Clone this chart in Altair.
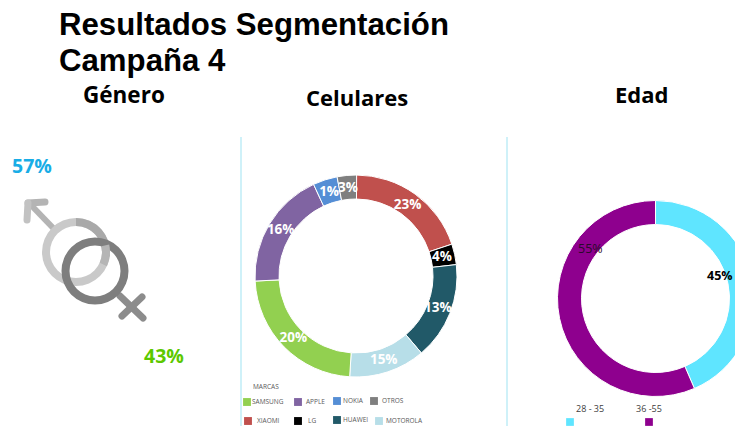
import altair as alt
import pandas as pd

# ---- data ----
TITLE_1 = "Resultados Segmentación"
TITLE_2 = "Campaña 4"
brands = ["XIAOMI", "LG", "HUAWEI", "MOTOROLA", "SAMSUNG", "APPLE", "NOKIA", "OTROS"]
brand_shares = [19.9, 3.3, 15.6, 12.2, 23.2, 18.9, 3.9, 3.1]
brand_labels = ["23%", "4%", "13%", "15%", "20%", "16%", "1%", "3%"]
brand_colors = ["#c0504d", "#000000", "#215968", "#b7dee8", "#92d050", "#8064a2", "#558ed5", "#7f7f7f"]
ages = ["28 - 35", "36 -55"]
age_shares = [43.5, 56.5]
age_labels = ["45%", "55%"]
age_colors = ["#5fe5ff", "#8e008e"]
gender_labels = ["57%", "43%"]

OFF = 8  # page margin


def fx(v):
    return alt.value(v - OFF)


def text(t, x, y, size, color="#000000", font="Open Sans", weight="bold", align="left", baseline="middle"):
    return (
        alt.Chart(pd.DataFrame({"t": [t]}))
        .mark_text(font=font, fontSize=size, fontWeight=weight, color=color, align=align, baseline=baseline)
        .encode(text="t:N", x=fx(x), y=fx(y))
    )


def line(x1, y1, x2, y2, color, w, cap="round"):
    return (
        alt.Chart(pd.DataFrame({"a": [0]}))
        .mark_rule(color=color, strokeWidth=w, strokeCap=cap)
        .encode(x=fx(x1), y=fx(y1), x2=fx(x2), y2=fx(y2))
    )


def ring(cx, cy, r_out, r_in, color, start=0.0, end=6.2832):
    return (
        alt.Chart(pd.DataFrame({"a": [0]}))
        .mark_arc(color=color, radius=r_out, radius2=r_in, theta=start, theta2=end)
        .encode(x=fx(cx), y=fx(cy))
    )


def square(x, y, color, size=62):
    return (
        alt.Chart(pd.DataFrame({"a": [0]}))
        .mark_point(shape="square", filled=True, color=color, size=size, opacity=1)
        .encode(x=fx(x), y=fx(y))
    )


def donut(names, shares, colors, cx, cy, r_out, r_in):
    df = pd.DataFrame({"name": names, "share": shares, "order": list(range(len(names)))})
    return (
        alt.Chart(df)
        .mark_arc(radius=r_out, radius2=r_in, stroke="#ffffff", strokeWidth=1)
        .encode(
            theta=alt.Theta("share:Q", stack=True, scale=alt.Scale(domain=[0, 100])),
            order=alt.Order("order:Q"),
            color=alt.Color("name:N", scale=alt.Scale(domain=names, range=colors), legend=None),
            x=fx(cx),
            y=fx(cy),
        )
    )


# ---- phone donut with stacked labels ----
phones = donut(brands, brand_shares, brand_colors, 356, 276, 101, 77)
phone_labels = (
    alt.Chart(pd.DataFrame({"name": brands, "share": brand_shares, "label": brand_labels,
                            "order": list(range(len(brands)))}))
    .mark_text(radius=88, font="Open Sans", fontSize=13.5, fontWeight="bold", color="#ffffff")
    .encode(
        theta=alt.Theta("share:Q", stack=True, scale=alt.Scale(domain=[0, 100])),
        order=alt.Order("order:Q"),
        detail="name:N",
        text="label:N",
        x=fx(356),
        y=fx(276),
    )
)

age_donut = donut(ages, age_shares, age_colors, 655.5, 298.5, 98, 74)

# ---- gender symbol ----
MALE_LIGHT = "#c9c9c9"
MALE_DARK = "#a9a9a9"
FEMALE = "#7e7e7e"
FEMALE_DARK = "#8c8c8c"
symbol = [
    line(30, 204, 56, 231, "#b4b4b4", 6, "butt"),
    line(28, 203, 45, 202, "#b4b4b4", 7),
    line(28, 203, 27, 220, "#c2c2c2", 7),
    ring(76, 252, 34, 26, MALE_LIGHT),
    ring(76, 252, 34, 26, MALE_DARK, 0.0, 1.7),
    line(120, 296, 143, 318, FEMALE_DARK, 7),
    line(122, 316, 142, 297, FEMALE_DARK, 7),
    ring(95, 271, 33.5, 25.5, FEMALE),
    ring(76, 252, 34, 26, "#b5b5b5", 1.35, 2.0),
]

# ---- legend marks ----
legend_rows = [
    ("SAMSUNG", 247, 402, 252, "#92d050"),
    ("APPLE", 298, 402, 306, "#8064a2"),
    ("NOKIA", 337, 401, 343, "#558ed5"),
    ("OTROS", 374, 401, 382, "#7f7f7f"),
    ("XIAOMI", 248, 421, 257, "#c0504d"),
    ("LG", 298, 421, 308, "#000000"),
    ("HUAWEI", 337, 420, 343, "#215968"),
    ("MOTOROLA", 379, 421, 386, "#b7dee8"),
]
legend_layers = [text("MARCAS", 253, 387, 6.5, "#595959", weight="normal")]
for name, sx, sy, tx, col in legend_rows:
    legend_layers.append(square(sx, sy, col))
    legend_layers.append(text(name, tx, sy, 6.5, "#595959", weight="normal"))

layers = [
    text(TITLE_1, 59, 26, 31.2, font="Liberation Sans"),
    text(TITLE_2, 59, 62, 31.2, font="Liberation Sans"),
    text("Género", 83, 96, 22.5),
    text("Celulares", 306, 99, 22),
    text("Edad", 615, 96, 22),
    line(241, 137, 241, 426, "#9fe3f2", 1, "butt"),
    line(507, 137, 507, 426, "#9fe3f2", 1, "butt"),
    text(gender_labels[0], 12, 167, 19.5, "#18ade6"),
    text(gender_labels[1], 144, 357, 19.5, "#5cc800"),
    *symbol,
    phones,
    phone_labels,
    *legend_layers,
    age_donut,
    text(age_labels[1], 578, 249, 12.5, "#2a0a2a", weight="normal"),
    text(age_labels[0], 707, 276, 12.5, "#000000"),
    text(ages[0], 576, 409, 9, "#404040", weight="normal"),
    text(ages[1], 636, 409, 9, "#404040", weight="normal"),
    square(570, 422, age_colors[0], 60),
    square(649, 422, age_colors[1], 60),
]

chart = (
    alt.layer(*layers)
    .resolve_scale(color="independent", theta="independent")
    .properties(width=727, height=418, padding=0, autosize="none", background="#ffffff")
    .configure_view(stroke=None)
)

chart.save("out.html", embed_options={"renderer": "svg", "actions": False})
